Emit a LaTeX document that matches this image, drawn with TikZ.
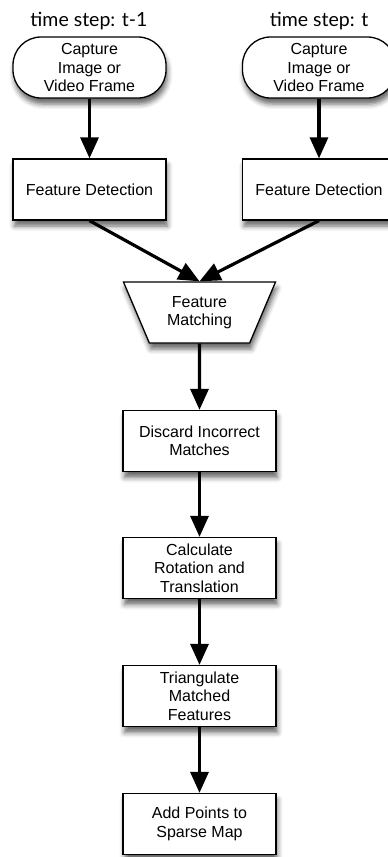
\documentclass[tikz,border=0pt]{standalone}
\usepackage{fontspec}
\setmainfont{Liberation Sans}
\newfontfamily\stepfont{Lato}
\usepackage{tikz}
\usetikzlibrary{shapes.geometric}
\usetikzlibrary{arrows.meta}
\usetikzlibrary{shadows.blur}
\tikzset{font={\fontsize{16pt}{18.5pt}\selectfont}}

\begin{document}
\begin{tikzpicture}[x=1pt,y=-1pt,
box/.style={draw,line width=1.3pt,fill=white,minimum width=153pt,minimum height=61pt,inner sep=0pt,align=center,
  blur shadow={shadow xshift=1.5pt,shadow yshift=-6pt,shadow blur radius=5pt,shadow opacity=60}},
capture/.style={box,rounded corners=28pt},
matching/.style={box,trapezium,shape border rotate=180,trapezium angle=63,trapezium stretches=true},
flow/.style={line width=3.2pt,-{Triangle[length=21pt,width=18pt]}},
steplabel/.style={font={\stepfont\fontsize{19.5pt}{22pt}\selectfont},inner sep=0pt}
]
\useasboundingbox (0,0) rectangle (388,857);

\node[steplabel] (t1) at (89,21) {time step: t-1};
\node[steplabel] (t2) at (319,21) {time step: t};

\node[capture] (cap1) at (89.5,67.5) {Capture\\Image or\\Video Frame};
\node[capture] (cap2) at (319,67.5) {Capture\\Image or\\Video Frame};

\node[box] (det1) at (89.5,189.5) {Feature Detection};
\node[box] (det2) at (319,189.5) {Feature Detection};

\node[matching] (match) at (199.5,312.5) {Feature\\Matching};
\node[box] (discard) at (199.5,441) {Discard Incorrect\\Matches};
\node[box] (calc) at (199.5,568) {Calculate\\Rotation and\\Translation};
\node[box] (tri) at (199.5,696) {Triangulate\\Matched\\Features};
\node[box] (add) at (199.5,824) {Add Points to\\Sparse Map};

\draw[flow] (cap1) -- (det1);
\draw[flow] (cap2) -- (det2);
\draw[flow] (det1.south) -- (match.north);
\draw[flow] (det2.south) -- (match.north);
\draw[flow] (match) -- (discard);
\draw[flow] (discard) -- (calc);
\draw[flow] (calc) -- (tri);
\draw[flow] (tri) -- (add);

\end{tikzpicture}
\end{document}
